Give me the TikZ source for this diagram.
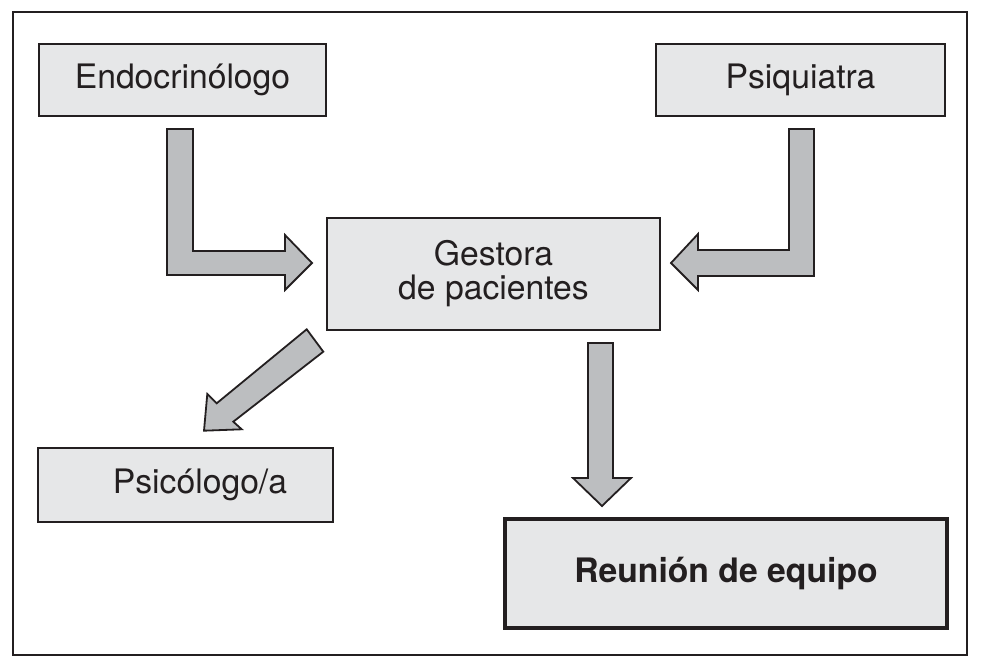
\documentclass[tikz,border=0pt]{standalone}
\usepackage{fontspec}
\setmainfont{TeX Gyre Heros}
\definecolor{boxfill}{HTML}{E6E7E8}
\definecolor{arrowfill}{HTML}{BCBEC0}
\definecolor{ink}{HTML}{231F20}
\begin{document}
\begin{tikzpicture}[x=1pt,y=-1pt,
  box/.style={draw=ink, fill=boxfill, line width=1.6pt, inner sep=0pt,
    text=ink, align=center, font=\fontsize{33.7}{34}\selectfont},
  blockarrow/.style={draw=ink, fill=arrowfill, line width=1.8pt, line join=miter}]
\useasboundingbox (0,0) rectangle (987,666);
\draw[ink, line width=2pt] (13,12) rectangle (967,655);

\node[box, minimum width=287pt, minimum height=72pt] (endo) at (182.5,80) {Endocrinólogo};
\node[box, minimum width=289pt, minimum height=72pt] (psiq) at (800.5,80) {Psiquiatra};
\node[box, minimum width=333pt, minimum height=112pt] (gest) at (493.5,274) {Gestora\\de pacientes};
\node[box, minimum width=295pt, minimum height=74pt] (psic) at (185.5,485) {\hspace*{29pt}Psicólogo/a};
\node[box, line width=4pt, minimum width=442pt, minimum height=109pt, font=\fontsize{33.7}{34}\selectfont\bfseries] (reun) at (726,573.5) {Reunión de equipo};

% Endocrinologo -> Gestora
\draw[blockarrow] (167,129) -- (193,129) -- (193,251) -- (285,251) -- (285,235) -- (312,263) -- (285,290) -- (285,275) -- (167,275) -- cycle;
% Psiquiatra -> Gestora
\draw[blockarrow] (789,129) -- (814,129) -- (814,276) -- (698,276) -- (698,290) -- (671,263) -- (698,234) -- (698,250) -- (789,250) -- cycle;
% Gestora -> Psicologo
\draw[blockarrow] (306.7,329.3) -- (323.3,351.7) -- (233.3,421.7) -- (241.7,429.3) -- (204,430.7) -- (207.3,394) -- (216.7,403.3) -- cycle;
% Gestora -> Reunion
\draw[blockarrow] (588,343) -- (613,343) -- (613,478) -- (631,478) -- (602,506) -- (573,478) -- (588,478) -- cycle;
\end{tikzpicture}
\end{document}
